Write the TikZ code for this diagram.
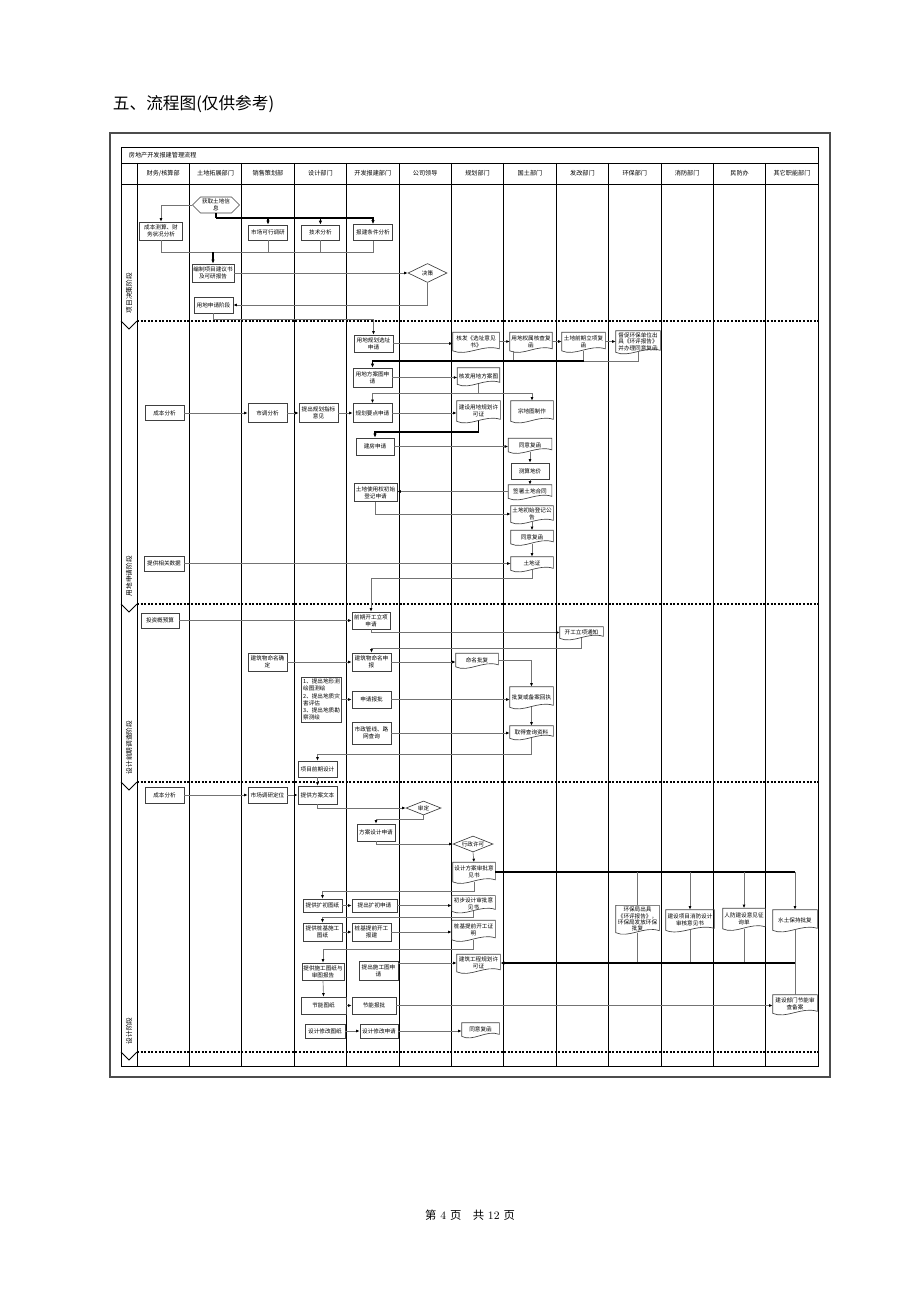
\documentclass[tikz,border=0pt]{standalone}
\usepackage{fontspec}
\newfontfamily\cjk{Noto Sans CJK SC}
\usetikzlibrary{arrows.meta,shapes.geometric,shapes.symbols,calc}

\tikzset{every picture/.style={line width=0.75pt}}
\tikzset{
  sz/.style 2 args={minimum width=#1*0.75pt, minimum height=#2*0.75pt},
  box/.style={draw=black!75, line width=0.5pt, fill=white, inner sep=1pt, align=center, font=\cjk\fontsize{4.2}{5.4}\selectfont},
  docbox/.style={box, draw=none, fill=none},
  docline/.style={draw=black!75, line width=0.5pt},
  decision/.style={box, diamond, aspect=2.6, inner sep=0pt},
  hexnode/.style={box, signal, signal to=west and east},
  flow/.style={draw=black!55, line width=0.5pt, -{Latex[length=2.6pt,width=2.2pt,color=black]}},
  bflow/.style={draw=black, line width=1.1pt, -{Latex[length=3pt,width=2.6pt]}},
  gline/.style={draw=black!55, line width=0.5pt},
  bline/.style={draw=black, line width=1.1pt},
  phaseline/.style={draw=black, line width=0.9pt, dash pattern=on 1.5pt off 1.2pt},
  lane/.style={draw=black, line width=0.6pt},
  head/.style={font=\cjk\fontsize{4.6}{5.5}\selectfont},
  phase/.style={font=\cjk\fontsize{5}{6}\selectfont, rotate=90, anchor=west},
}
% document node: box with a wavy lower edge
\newcommand\docnode[4]{%
  \node[docbox,#3] (#1) at #2 {#4};
  \draw[docline] (#1.north west) -- (#1.north east) -- ($(#1.south east)+(0,-2)$)
    .. controls ($(#1.south east)!0.35!(#1.south west)+(0,-7)$) and ($(#1.south east)!0.7!(#1.south west)+(0,6)$) .. (#1.south west) -- cycle;
}

\begin{document}
\begin{tikzpicture}[x=0.75pt,y=0.75pt,yscale=-1,xscale=1]
\useasboundingbox (0,0) rectangle (920,1302);

% Page title and footer
\node[anchor=west, font=\cjk\fontsize{12.5}{14}\selectfont] (pagetitle) at (108,104) {五、流程图(仅供参考)};
\node[font=\fontsize{8.5}{10}\selectfont] (pagefoot) at (470,1215) {{\cjk 第}~4~{\cjk 页}\quad{\cjk 共}~12~{\cjk 页}};

% Frame and lanes
\draw[draw=black!70, line width=1.5pt] (110,133) rectangle (830,1077);
\draw[lane] (121,147) rectangle (818,1066);
\draw[lane] (121,163) -- (818,163);
\draw[lane] (121,184) -- (818,184);
\draw[lane] (121,163) -- (121,1066);
\foreach \i in {0,...,13} \draw[lane] (137+52.4*\i,163) -- (137+52.4*\i,1066);
\node[head, anchor=west] (charttitle) at (124,155) {房地产开发报建管理流程};
\foreach \dept [count=\i from 0] in {财务/核算部,土地拓展部门,销售策划部,设计部门,开发报建部门,公司领导,规划部门,国土部门,发改部门,环保部门,消防部门,民防办,其它职能部门}
  \node[head] (dept\i) at (163.2+52.4*\i,173.5) {\dept};
\foreach \y in {321,604,782,1052} {
  \draw[phaseline] (137,\y) -- (818,\y);
  \draw[lane] (121,\y) -- (129,\y+8) -- (137,\y);
}
\node[phase] (ph1) at (129,318) {项目决策阶段};
\node[phase] (ph2) at (129,601) {用地申请阶段};
\node[phase] (ph3) at (129,779) {设计前期调查阶段};
\node[phase] (ph4) at (129,1049) {设计阶段};

%% Phase 1
\node[hexnode, sz={47}{16}] (landinfo) at (216,205) {获取土地信\\息};
\node[box, sz={43}{18}] (costcalc) at (161,231) {成本测算、财\\务状况分析};
\node[box, sz={39}{15}] (mktstudy) at (268,232.5) {市场可行调研};
\node[box, sz={38}{15}] (techana) at (320.4,232.5) {技术分析};
\node[box, sz={39}{16}] (condana) at (373,232.5) {报建条件分析};
\node[box, sz={42}{18}] (proposal) at (213,273) {编制项目建议书\\及可研报告};
\node[decision, sz={39}{19}] (decide) at (427.5,273) {决策};
\node[box, sz={39}{16}] (landreq) at (213.5,305) {用地申请阶段};

\coordinate (bus1) at (216,218);
\coordinate (bus2) at (213,252);
\coordinate (ret0) at (0,319);
\draw[flow] (landinfo.west) -| (costcalc.north);
\draw[bline] (landinfo.south) -- (bus1);
\draw[bflow] (bus1) -| (mktstudy.north);
\draw[bflow] (bus1) -| (techana.north);
\draw[bflow] (bus1) -| (condana.north);
\draw[gline] (costcalc.south) |- (condana.south |- bus2) -- (condana.south);
\draw[gline] (mktstudy.south) -- (mktstudy.south |- bus2);
\draw[gline] (techana.south) -- (techana.south |- bus2);
\draw[bflow] (bus2) -- (proposal.north);
\draw[flow] (proposal.east) -- (decide.west);
\draw[flow] (decide.south) |- (landreq.east);

%% Phase 2
\node[box, sz={39}{17}] (siteapp) at (373.5,343.5) {用地规划选址\\申请};
\docnode{sitedoc}{(476,341.5)}{sz={46}{18}}{核发《选址意见\\书》}
\docnode{owndoc}{(531,341.5)}{sz={40}{18}}{用地权属核查复\\函}
\docnode{projdoc}{(583.5,341.5)}{sz={43}{18}}{土地前期立项复\\函}
\docnode{envdoc}{(638,341.5)}{sz={44}{18}, font=\cjk\fontsize{4.2}{4.9}\selectfont}{督促环保单位出\\具《环评报告》\\并办理同意复函}
\draw[flow] (landreq.south) |- (siteapp.north |- ret0) -- (siteapp.north);
\draw[flow] (siteapp.east) -- (siteapp.east -| sitedoc.west);
\draw[flow] (sitedoc.east) -- (owndoc.west);
\draw[flow] (owndoc.east) -- (projdoc.west);
\draw[flow] (projdoc.east) -- (envdoc.west);

\node[box, sz={39}{19}] (planapp) at (372.5,377.5) {用地方案图申\\请};
\docnode{plandoc}{(478.5,376)}{sz={41}{16}}{核发用地方案图}
\coordinate (ret1) at (0,361);
\draw[gline] (owndoc.south west) ++(4,0) |- (projdoc.south |- ret1);
\draw[gline] (envdoc.south) |- (projdoc.south |- ret1);
\draw[gline] (projdoc.south) -- (projdoc.south |- ret1);
\draw[bflow] (projdoc.south |- ret1) -- (planapp.north |- ret1) -- (planapp.north);
\draw[flow] (planapp.east) -- (planapp.east -| plandoc.west);

\node[box, sz={39}{19}] (keyapp) at (372.5,413) {规划要点申请};
\node[box, sz={39}{19}] (planidx) at (318.5,413) {提出规划指标\\意见};
\node[box, sz={39}{19}] (mktana) at (267.5,413) {市调分析};
\node[box, sz={39}{15}] (costana) at (164.5,413) {成本分析};
\docnode{permitdoc}{(478.5,411)}{sz={43}{20}}{建设用地规划许\\可证}
\docnode{parceldoc}{(532,411)}{sz={42}{20}}{宗地图制作}
\coordinate (bus3) at (0,393);
\draw[gline] (plandoc.south) -- (plandoc.south |- bus3);
\draw[flow] (plandoc.south |- bus3) -| (keyapp.north);
\draw[flow] (plandoc.south |- bus3) -| (parceldoc.north);
\draw[flow] (costana.east) -- (mktana.west);
\draw[flow] (mktana.east) -- (planidx.west);
\draw[flow] (planidx.east) -- (keyapp.west);
\draw[flow] (keyapp.east) -- (keyapp.east -| permitdoc.west);

\node[box, sz={38}{17}] (buildapp) at (375,446.5) {建房申请};
\docnode{agree1}{(530,445)}{sz={43}{13}}{同意复函}
\node[box, sz={38}{16}] (landprice) at (530,471) {测算地价};
\docnode{contract}{(530,491.5)}{sz={43}{13}}{签署土地合同}
\node[box, sz={43}{18}] (regapp) at (375.5,492.5) {土地使用权初始\\登记申请};
\docnode{notice}{(532,514)}{sz={42}{16}}{土地初始登记公\\告}
\docnode{agree2}{(532,537)}{sz={42}{13}}{同意复函}
\docnode{landcert}{(532,563.5)}{sz={42}{13}}{土地证}
\node[box, sz={40}{15}] (landdata) at (164,563.5) {提供相关数据};
\coordinate (ret2) at (0,432);
\coordinate (ret3) at (0,578);
\draw[bflow] (permitdoc.south) |- (buildapp.north |- ret2) -- (buildapp.north);
\draw[flow] (buildapp.east) -- (buildapp.east -| agree1.west);
\draw[flow] (agree1.south) -- (landprice.north);
\draw[flow] (landprice.south) -- (contract.north);
\draw[flow] (contract.west) -- (contract.west -| regapp.east);
\draw[flow] (regapp.south) |- (notice.west);
\draw[flow] (notice.south) -- (agree2.north);
\draw[flow] (agree2.south) -- (landcert.north);
\draw[flow] (landdata.east) -- (landdata.east -| landcert.west);

%% Phase 3
\node[box, sz={38}{15}] (budget) at (160,620.5) {投资概预算};
\node[box, sz={38}{17}] (startapp) at (371,620.5) {前期开工立项\\申请};
\docnode{startdoc}{(581.5,632.5)}{sz={43}{11}}{开工立项通知}
\draw[flow] (landcert.south) |- (startapp.north |- ret3) -- (startapp.north);
\draw[flow] (budget.east) -- (budget.east -| startapp.west);
\draw[flow] (startapp.south) |- (startdoc.west);

\node[box, sz={39}{18}] (nameapp) at (371.5,662) {建筑物命名申\\报};
\node[box, sz={39}{18}] (nameset) at (267.5,662) {建筑物命名确\\定};
\docnode{namedoc}{(477,660)}{sz={42}{13}}{命名批复}
\docnode{replydoc}{(531.5,697)}{sz={43}{20}}{批复或备案回执}
\coordinate (ret4) at (0,648);
\draw[flow] (startdoc.south) |- (nameapp.north |- ret4) -- (nameapp.north);
\draw[flow] (nameset.east) -- (nameset.east -| nameapp.west);
\draw[flow] (nameapp.east) -- (nameapp.east -| namedoc.west);
\draw[flow] (namedoc.east) -| (replydoc.north);

\node[box, sz={39}{45}, align=left] (survey) at (321.5,699.5) {1、提出地形测\\绘图测绘\\2、提出地质灾\\害评估\\3、提出地质勘\\察测绘};
\node[box, sz={39}{17}] (approve) at (371.5,699.5) {申请报批};
\docnode{querydoc}{(531.5,732)}{sz={43}{12}}{取得查询资料}
\node[box, sz={39}{22}] (pipeq) at (371.5,733) {市政管线、路\\网查询};
\node[box, sz={39}{16}] (predesign) at (317.5,769) {项目前期设计};
\coordinate (ret5) at (0,754);
\draw[flow] (survey.east) -- (survey.east -| approve.west);
\draw[flow] (approve.east) -- (approve.east -| replydoc.west);
\draw[flow] (replydoc.south) -- (querydoc.north);
\draw[flow] (pipeq.east) -- (pipeq.east -| querydoc.west);
\draw[flow] (querydoc.south) |- (predesign.north |- ret5) -- (predesign.north);

%% Phase 4
\node[box, sz={39}{16}] (costana2) at (164.5,795) {成本分析};
\node[box, sz={39}{16}] (mktpos) at (267.5,795) {市场调研定位};
\node[box, sz={39}{18}] (schemetext) at (317.5,795) {提供方案文本};
\node[decision, sz={35}{14}] (audit) at (423.5,808) {审定};
\node[box, sz={38}{17}] (schemeapp) at (376,832.5) {方案设计申请};
\node[decision, sz={40}{16}] (license) at (473,844) {行政许可};
\docnode{schemedoc}{(474,872)}{sz={42}{19}}{设计方案审批意\\见书}
\coordinate (ret6) at (0,819);
\draw[flow] (predesign.south) -- (schemetext.north);
\draw[flow] (costana2.east) -- (mktpos.west);
\draw[flow] (mktpos.east) -- (schemetext.west);
\draw[flow] (schemetext.south) |- (audit.west);
\draw[flow] (audit.south) |- (schemeapp.north |- ret6) -- (schemeapp.north);
\draw[flow] (schemeapp.south) |- (license.west);
\draw[flow] (license.south) -- (schemedoc.north);

\docnode{envdoc2}{(637.5,919)}{sz={43}{22}, font=\cjk\fontsize{4.2}{4.7}\selectfont}{环保局出具\\《环评报告》，\\环保局发放环保\\批复}
\docnode{firedoc}{(690,920)}{sz={48}{20}}{建设项目消防设计\\审核意见书}
\docnode{civdoc}{(744,918.5)}{sz={42}{20}}{人防建设意见征\\询单}
\docnode{waterdoc}{(795,920)}{sz={44}{20}}{水土保持批复}
\draw[bline] (schemedoc.east) -- (schemedoc.east -| waterdoc.north);
\draw[gline] (schemedoc.east -| envdoc2.north) -- (envdoc2.north);
\draw[flow] (schemedoc.east -| firedoc.north) -- (firedoc.north);
\draw[flow] (schemedoc.east -| civdoc.north) -- (civdoc.north);
\draw[flow] (schemedoc.east -| waterdoc.north) -- (waterdoc.north);

\node[box, sz={39}{13}] (expand) at (322.5,905.5) {提供扩初图纸};
\node[box, sz={45}{13}] (expandapp) at (374.5,905.5) {提出扩初申请};
\docnode{prelimdoc}{(473.5,903.5)}{sz={43}{15}}{初步设计审批意\\见书}
\coordinate (ret7) at (0,891);
\draw[flow] (schemedoc.south) |- (expand.north |- ret7) -- (expand.north);
\draw[flow] (expand.east) -- (expand.east -| expandapp.west);
\draw[flow] (expandapp.east) -- (expandapp.east -| prelimdoc.west);

\node[box, sz={39}{18}] (pile) at (322.5,932) {提供桩基施工\\图纸};
\node[box, sz={39}{18}] (pileapp) at (371.5,932) {桩基提前开工\\报建};
\docnode{piledoc}{(473.5,930)}{sz={43}{19}}{桩基提前开工证\\明}
\coordinate (ret8) at (0,917);
\draw[flow] (prelimdoc.south) |- (pile.north |- ret8) -- (pile.north);
\draw[flow] (pile.east) -- (pile.east -| pileapp.west);
\draw[flow] (pileapp.east) -- (pileapp.east -| piledoc.west);

\node[box, sz={40}{17}] (constr) at (323,971.5) {提供施工图纸与\\审图报告};
\node[box, sz={39}{19}] (constrapp) at (378.5,971) {提出施工图申\\请};
\docnode{buildpermit}{(478.5,963)}{sz={43}{17}}{建筑工程规划许\\可证}
\coordinate (ret9) at (0,949);
\draw[flow] (piledoc.south) |- (constr.north |- ret9) -- (constr.north);
\draw[flow] (constrapp.east |- buildpermit.west) -- (buildpermit.west);

\node[box, sz={45}{17}] (energy) at (323.5,1005.5) {节能图纸};
\node[box, sz={44}{17}] (energyapp) at (374,1005.5) {节能报批};
\docnode{energydoc}{(795,1004)}{sz={44}{18}}{建设部门节能审\\查备案}
\draw[gline] (envdoc2.south) -- (envdoc2.south |- buildpermit.east);
\draw[gline] (firedoc.south) -- (firedoc.south |- buildpermit.east);
\draw[gline] (civdoc.south) -- (civdoc.south |- buildpermit.east);
\draw[gline] (waterdoc.south) -- (energydoc.north);
\draw[bflow] (waterdoc.south |- buildpermit.east) -- (buildpermit.east);
\draw[flow] (constr.south) -- (energy.north);
\draw[flow] (energy.east) -- (energy.east -| energyapp.west);
\draw[flow] (energyapp.east) -- (energyapp.east -| energydoc.west);

\node[box, sz={40}{14}] (modify) at (325,1031) {设计修改图纸};
\node[box, sz={38}{14}] (modifyapp) at (379,1031) {设计修改申请};
\docnode{agree3}{(480.5,1029.5)}{sz={37}{13}}{同意复函}
\draw[flow] (modify.east) -- (modify.east -| modifyapp.west);
\draw[flow] (modifyapp.east) -- (modifyapp.east -| agree3.west);

\end{tikzpicture}
\end{document}
